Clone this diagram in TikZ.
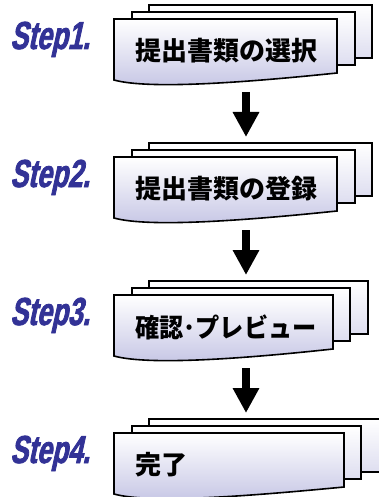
\documentclass[tikz,border=0pt]{standalone}
\usepackage{fontspec}
\usetikzlibrary{arrows.meta}
\newfontfamily\jpfont{Noto Sans CJK JP}
\newfontfamily\stepfont{Liberation Sans}[FakeSlant=0.22,FakeStretch=0.68,FakeBold=2]
\definecolor{stepblue}{RGB}{50,50,150}
\definecolor{backlav}{RGB}{222,222,240}
\definecolor{frontlav}{RGB}{196,196,228}
\newcommand\stackboxes[4]{%
\begin{scope}[shift={(0,#1)}]
\path[backbox] (149,5) rectangle (#2,58);
\path[backbox] (132,12) rectangle (#3,65);
\path[frontbox] (114,19) -- (#4,19) -- (#4,73) .. controls (250,82) and (150,90) .. (114,80) -- cycle;
\end{scope}}
\begin{document}
\begin{tikzpicture}[x=1pt,y=-1pt,
 backbox/.style={draw=black, line width=1.6pt, top color=white, bottom color=backlav},
 frontbox/.style={draw=black, line width=1.6pt, top color=white, bottom color=frontlav},
 steplabel/.style={anchor=base west, inner sep=0pt, text=stepblue, font=\stepfont\bfseries\fontsize{39}{39}\selectfont},
 boxtext/.style={anchor=west, inner sep=0pt, font=\jpfont\bfseries\fontsize{26}{26}\selectfont},
 flowarrow/.style={line width=8pt, -{Triangle[width=25pt,length=25pt]}}]
\useasboundingbox (0,0) rectangle (379,497);
\stackboxes{0}{372}{355}{337}
\stackboxes{138}{372}{355}{337}
\stackboxes{276}{368}{350}{333}
\stackboxes{414}{390}{361}{344}
\node[steplabel] (st1) at (10,49) {Step1.};
\node[steplabel] (st2) at (10,187) {Step2.};
\node[steplabel] (st3) at (10,325) {Step3.};
\node[steplabel] (st4) at (10,463) {Step4.};
\node[boxtext] (t1) at (135,51) {提出書類の選択};
\node[boxtext] (t2) at (135,189) {提出書類の登録};
\node[boxtext] (t3) at (135,327) {\scalebox{0.93}[1]{確認･プレビュー}};
\node[boxtext] (t4) at (135,465) {完了};
\coordinate (a1s) at (246,92);
\coordinate (a1e) at (246,137);
\coordinate (a2s) at (246,230);
\coordinate (a2e) at (246,275);
\coordinate (a3s) at (246,368);
\coordinate (a3e) at (246,413);
\draw[flowarrow] (a1s) -- (a1e);
\draw[flowarrow] (a2s) -- (a2e);
\draw[flowarrow] (a3s) -- (a3e);
\end{tikzpicture}
\end{document}
